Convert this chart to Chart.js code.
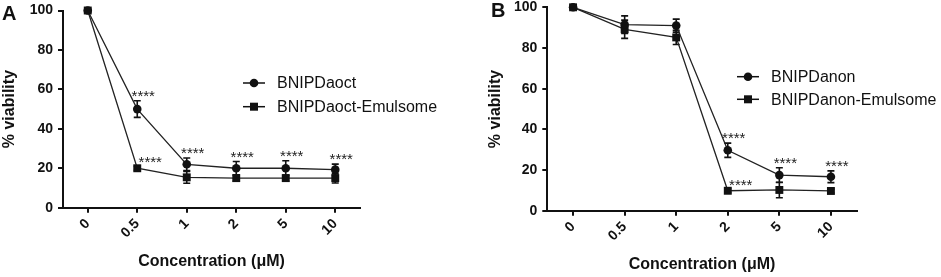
<!DOCTYPE html>
<html>
<head>
<meta charset="utf-8">
<script src="https://cdn.jsdelivr.net/npm/chart.js@4"></script>
<style>
  html, body { margin: 0; padding: 0; background: #fff; }
  #wrap { position: relative; width: 941px; height: 277px; overflow: hidden; }
  canvas { position: absolute; top: 0; }
  #cA { left: 0; }
  #cB { left: 470px; }
</style>
</head>
<body>
<div id="wrap">
  <canvas id="cA" width="470" height="277"></canvas>
  <canvas id="cB" width="471" height="277"></canvas>
</div>
<script>
// ---- data ----
const categories = ['0', '0.5', '1', '2', '5', '10'];
const yTicks = [0, 20, 40, 60, 80, 100];

const octLabel = 'BNIPDaoct';
const octValues = [100, 50, 22, 20, 20, 19.3];
const octErrors = [0, 4.2, 3.2, 3.4, 3.8, 2.8];
const octStars = ['', '****', '****', '****', '****', '****'];

const octEmLabel = 'BNIPDaoct-Emulsome';
const octEmValues = [100, 20, 15.4, 15, 15, 15];
const octEmErrors = [0, 1, 3, 1.5, 1.5, 2.5];
const octEmStars = ['', '****', '', '', '', ''];

const anonLabel = 'BNIPDanon';
const anonValues = [100, 91.5, 91, 29.7, 17.5, 16.7];
const anonErrors = [0, 4.3, 3.2, 3.5, 3.6, 2.9];
const anonStars = ['', '', '', '****', '****', '****'];

const anonEmLabel = 'BNIPDanon-Emulsome';
const anonEmValues = [100, 89.2, 85.2, 9.8, 10.2, 9.7];
const anonEmErrors = [0, 4.5, 3.5, 1, 3.8, 1];
const anonEmStars = ['', '', '', '****', '', ''];

const FONT = "Arial, 'Liberation Sans', sans-serif";
const INK = '#111';

const decorPlugin = {
  id: 'decor',
  beforeDatasetsDraw(chart) {
    const ctx = chart.ctx;
    const ys = chart.scales.y, xs = chart.scales.x;
    ctx.save();
    ctx.strokeStyle = INK;
    ctx.lineWidth = 1.6;
    chart.data.datasets.forEach(ds => {
      ds.data.forEach((v, i) => {
        const e = ds.errors[i];
        if (!e) return;
        const x = xs.getPixelForValue(i);
        const yt = ys.getPixelForValue(v + e), yb = ys.getPixelForValue(v - e);
        ctx.beginPath();
        ctx.moveTo(x, yt); ctx.lineTo(x, yb);
        ctx.moveTo(x - 3.5, yt); ctx.lineTo(x + 3.5, yt);
        ctx.moveTo(x - 3.5, yb); ctx.lineTo(x + 3.5, yb);
        ctx.stroke();
      });
    });
    ctx.restore();
  },
  afterDraw(chart) {
    const ctx = chart.ctx;
    const o = chart.options.plugins.decor;
    const ys = chart.scales.y, xs = chart.scales.x;
    ctx.save();
    // significance stars
    ctx.fillStyle = '#222';
    ctx.font = '15px ' + FONT;
    ctx.textAlign = 'center';
    ctx.textBaseline = 'alphabetic';
    chart.data.datasets.forEach(ds => {
      ds.stars.forEach((s, i) => {
        if (!s) return;
        const x = xs.getPixelForValue(i);
        let cx, cy;
        if (ds.starsBeside) {
          cx = x + 13; cy = ys.getPixelForValue(ds.data[i]) - 10;
        } else {
          cx = x + 6; cy = ys.getPixelForValue(ds.data[i] + ds.errors[i]) - 9;
        }
        ctx.fillText(s, cx, cy + 9);
      });
    });
    // legend
    ctx.font = '16px ' + FONT;
    ctx.textAlign = 'left';
    ctx.textBaseline = 'middle';
    chart.data.datasets.forEach((ds, k) => {
      const ly = o.legendY + k * o.legendGap;
      ctx.strokeStyle = INK; ctx.lineWidth = 1.5;
      ctx.beginPath(); ctx.moveTo(o.legendX - 11, ly); ctx.lineTo(o.legendX + 11, ly); ctx.stroke();
      ctx.fillStyle = INK;
      if (ds.pointStyle === 'rect') {
        ctx.fillRect(o.legendX - 4, ly - 4, 8, 8);
      } else {
        ctx.beginPath(); ctx.arc(o.legendX, ly, 4.3, 0, Math.PI * 2); ctx.fill();
      }
      ctx.fillText(ds.label, o.legendX + 23, ly + 1);
    });
    // panel letter
    ctx.font = 'bold 20px ' + FONT;
    ctx.textBaseline = 'alphabetic';
    ctx.fillText(o.letter, o.letterX, o.letterY);
    ctx.restore();
  }
};

function series(label, values, errors, stars, style, beside) {
  return {
    label, data: values, errors, stars, starsBeside: beside,
    pointStyle: style,
    pointRadius: style === 'rect' ? 5.6 : 4.3,
    pointBackgroundColor: INK, pointBorderColor: INK, pointBorderWidth: 0,
    borderColor: '#222', borderWidth: 1.3, tension: 0, fill: false, clip: false
  };
}

function makeChart(id, sets, g) {
  const axisCommon = {
    grid: { display: true, drawOnChartArea: false, drawTicks: true, tickLength: 5, color: INK, lineWidth: 2 },
    border: { display: true, color: INK, width: 2 }
  };
  return new Chart(document.getElementById(id), {
    type: 'line',
    data: { labels: categories, datasets: sets },
    options: {
      responsive: false, animation: false, devicePixelRatio: 1,
      layout: { padding: { top: g.top, right: g.right, left: 0, bottom: 0 } },
      plugins: {
        legend: { display: false }, tooltip: { enabled: false },
        decor: { legendX: g.legendX, legendY: g.legendY, legendGap: g.legendGap, letter: g.letter, letterX: g.letterX, letterY: g.letterY }
      },
      scales: {
        x: Object.assign({}, axisCommon, {
          type: 'category', offset: true,
          ticks: { minRotation: 45, maxRotation: 45, padding: 3, color: INK, font: { family: FONT, size: 14, weight: 'bold' } },
          title: { display: true, text: 'Concentration (μM)', color: INK, font: { family: FONT, size: 16, weight: 'bold' }, padding: { top: 0, bottom: g.xTitlePad } },
          afterFit: s => { s.height = g.xHeight; s.paddingLeft = 0; s.paddingRight = 0; }
        }),
        y: Object.assign({}, axisCommon, {
          min: 0, max: 100,
          afterBuildTicks: s => { s.ticks = yTicks.map(v => ({ value: v })); },
          ticks: { padding: 5, color: INK, font: { family: FONT, size: 14, weight: 'bold' } },
          title: { display: true, text: '% viability', color: INK, font: { family: FONT, size: 16, weight: 'bold' }, padding: { top: g.yTitlePad, bottom: 0 } },
          afterFit: s => { s.width = g.yWidth; s.paddingTop = 0; s.paddingBottom = 0; }
        })
      }
    },
    plugins: [decorPlugin]
  });
}

makeChart('cA', [
  series(octLabel, octValues, octErrors, octStars, 'circle', false),
  series(octEmLabel, octEmValues, octEmErrors, octEmStars, 'rect', true)
], { top: 10.5, right: 110, xHeight: 69.3, yWidth: 63, xTitlePad: 5.5, yTitlePad: 0,
     legendX: 254, legendY: 83, legendGap: 23.7, letter: 'A', letterX: 2, letterY: 20 });

makeChart('cB', [
  series(anonLabel, anonValues, anonErrors, anonStars, 'circle', false),
  series(anonEmLabel, anonEmValues, anonEmErrors, anonEmStars, 'rect', true)
], { top: 7.3, right: 84.3, xHeight: 66.3, yWidth: 77.3, xTitlePad: 3, yTitlePad: 16,
     legendX: 278, legendY: 76.7, legendGap: 22.6, letter: 'B', letterX: 21, letterY: 17 });
</script>
</body>
</html>
